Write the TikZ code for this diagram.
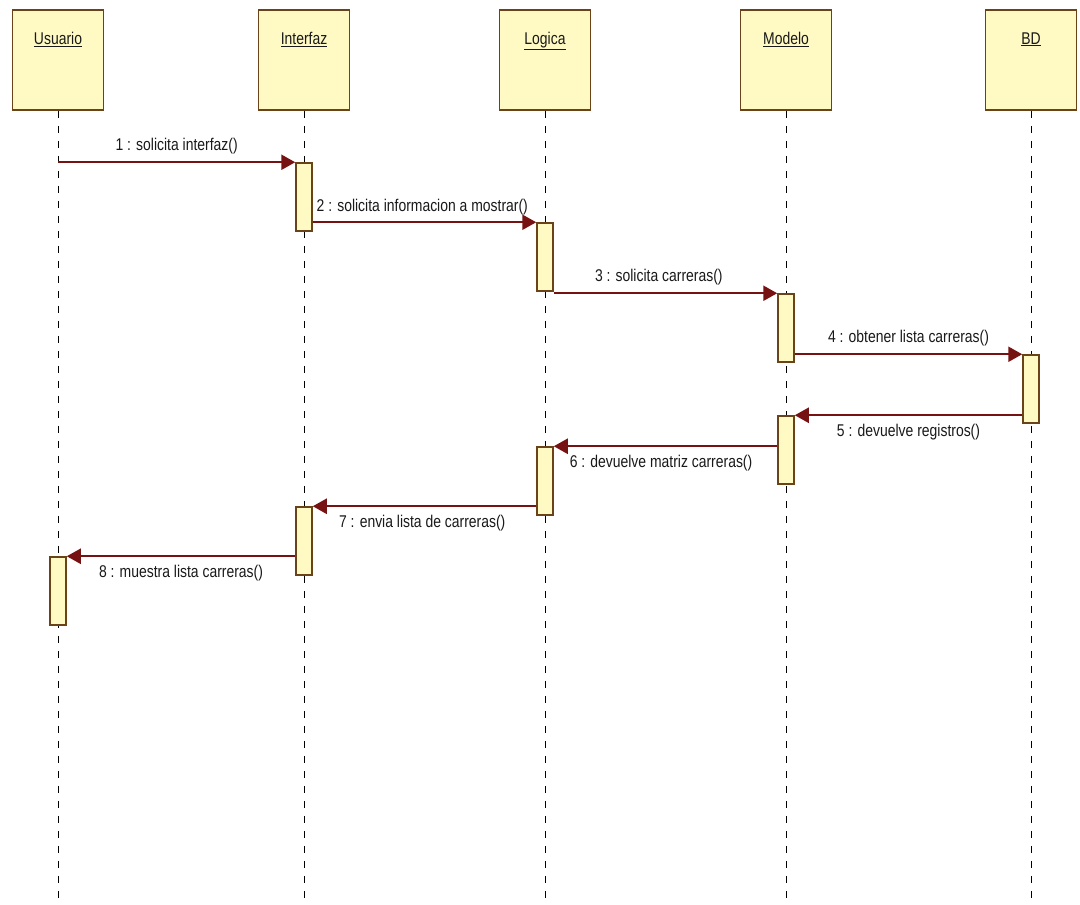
\documentclass[tikz,border=0pt]{standalone}
\usepackage{fontspec}
\setmainfont[FakeStretch=0.82]{Liberation Sans}
\usepackage{tikz}
\usetikzlibrary{arrows.meta, positioning, calc}
\usepackage{xcolor}
\definecolor{headfill}{HTML}{FFFAC4}
\definecolor{headdraw}{HTML}{6A4418}
\definecolor{msgred}{HTML}{761212}

\begin{document}
\begin{tikzpicture}[x=1pt, y=-1pt,
    headbox/.style = {rectangle, draw=headdraw, fill=headfill, line width=1.5pt, minimum width=91pt, minimum height=100pt, inner sep=0pt},
    actbar/.style = {rectangle, draw=headdraw, fill=headfill, line width=1.5pt, minimum width=16pt, minimum height=68pt, inner sep=0pt},
    lifeline/.style = {draw=black, line width=1pt, dash pattern=on 7pt off 8pt},
    msg/.style = {draw=msgred, line width=2.4pt, -{Triangle[length=14pt, width=15pt]}},
    msglabel/.style = {font=\fontsize{17}{19}\selectfont, text=black!90, inner sep=2pt}
]
\useasboundingbox (0,0) rectangle (1080,905);

% Nodes
\node (h_user) [headbox] at (58,60) {};
\node (h_gui) [headbox] at (304,60) {};
\node (h_logic) [headbox] at (545,60) {};
\node (h_model) [headbox] at (786,60) {};
\node (h_db) [headbox] at (1031,60) {};

\foreach \n/\t in {h_user/Usuario, h_gui/Interfaz, h_logic/Logica, h_model/Modelo, h_db/BD}
    \node [msglabel, anchor=north] at ($(\n.north)+(0,21)$) {\underline{\t}};

% Lifelines
\foreach \n in {h_user, h_gui, h_logic, h_model, h_db}
    \draw [lifeline] (\n.south) -- (\n.south |- 0,905);

% Activations
\node (a_gui1) [actbar] at (304,197) {};
\node (a_logic1) [actbar] at (545,257) {};
\node (a_model1) [actbar] at (786,328) {};
\node (a_db1) [actbar] at (1031,389) {};
\node (a_model2) [actbar] at (786,450) {};
\node (a_logic2) [actbar] at (545,481) {};
\node (a_gui2) [actbar] at (304,541) {};
\node (a_user1) [actbar] at (58,591) {};

\coordinate (c_start) at (h_user.south |- a_gui1.north);

% Connections
\draw [msg] (c_start) -- node[msglabel, above=5pt]{1 : solicita interfaz()} (a_gui1.north west);
\draw [msg] (a_gui1.east |- a_logic1.north west) -- node[msglabel, above=4pt, pos=0.49]{2 : solicita informacion a mostrar()} (a_logic1.north west);
\draw [msg] (a_logic1.east |- a_model1.north west) -- node[msglabel, above=5pt, pos=0.47]{3 : solicita carreras()} (a_model1.north west);
\draw [msg] (a_model1.east |- a_db1.north west) -- node[msglabel, above=5pt, pos=0.5]{4 : obtener lista carreras()} (a_db1.north west);
\draw [msg] (a_db1.west |- a_model2.north east) -- node[msglabel, below=6pt, pos=0.5]{5 : devuelve registros()} (a_model2.north east);
\draw [msg] (a_model2.west |- a_logic2.north east) -- node[msglabel, below=6pt, pos=0.52]{6 : devuelve matriz carreras()} (a_logic2.north east);
\draw [msg] (a_logic2.west |- a_gui2.north east) -- node[msglabel, below=6pt, pos=0.51]{7 : envia lista de carreras()} (a_gui2.north east);
\draw [msg] (a_gui2.west |- a_user1.north east) -- node[msglabel, below=6pt, pos=0.5]{8 : muestra lista carreras()} (a_user1.north east);

\end{tikzpicture}
\end{document}
